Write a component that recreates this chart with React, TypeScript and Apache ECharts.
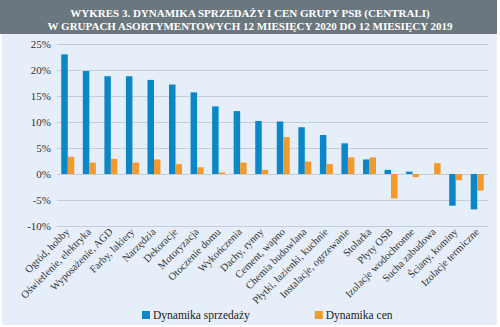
import React, { useEffect, useRef } from "react";
import * as echarts from "echarts";

const categories = [
  "Ogród, hobby",
  "Oświetlenie, elektryka",
  "Wyposażenie, AGD",
  "Farby, lakiery",
  "Narzędzia",
  "Dekoracje",
  "Motoryzacja",
  "Otoczenie domu",
  "Wykończenia",
  "Dachy, rynny",
  "Cement, wapno",
  "Chemia budowlana",
  "Płytki, łazienki, kuchnie",
  "Instalacje, ogrzewanie",
  "Stolarka",
  "Płyty OSB",
  "Izolacje wodochronne",
  "Sucha zabudowa",
  "Ściany, kominy",
  "Izolacje termiczne",
];

const salesDynamics = [23.0, 19.8, 18.8, 18.8, 18.1, 17.2, 15.7, 13.0, 12.1, 10.2, 10.1, 9.0, 7.5, 5.9, 2.8, 0.8, 0.45, 0.0, -6.1, -6.8];
const priceDynamics = [3.3, 2.2, 2.9, 2.2, 2.8, 1.9, 1.3, 0.3, 2.2, 0.8, 7.1, 2.4, 1.9, 3.2, 3.2, -4.7, -0.6, 2.1, -1.2, -3.2];

const titleLines = [
  "WYKRES 3. DYNAMIKA SPRZEDAŻY I CEN GRUPY PSB (CENTRALI)",
  "W GRUPACH ASORTYMENTOWYCH 12 MIESIĘCY 2020 DO 12 MIESIĘCY 2019",
];

const seriesNames = ["Dynamika sprzedaży", "Dynamika cen"];
const serif = "Liberation Serif";

export default function App() {
  const ref = useRef<HTMLDivElement>(null);
  useEffect(() => {
    document.body.style.margin = "0";
    const chart = echarts.init(ref.current!, null, { renderer: "svg" });
    chart.setOption({
      animation: false,
      backgroundColor: "#ffffff",
      textStyle: { fontFamily: serif },
      graphic: [
        { type: "rect", shape: { x: 2, y: 34, width: 495, height: 291 }, style: { fill: "#e5eef9" }, z: -10 },
        { type: "rect", shape: { x: 0, y: 0, width: 497, height: 34 }, style: { fill: "#6b777e" }, z: -10 },
        {
          type: "text",
          x: 250,
          y: 6,
          style: {
            text: titleLines.join("\n"),
            fill: "#ffffff",
            font: `bold 11px "${serif}"`,
            align: "center",
            lineHeight: 13,
          },
        },
      ],
      legend: {
        left: 142,
        top: 309,
        padding: 0,
        itemWidth: 8,
        itemHeight: 8,
        itemGap: 65,
        icon: "rect",
        textStyle: { fontFamily: serif, fontSize: 11.5, color: "#222", padding: [0, 0, 0, -2] },
        data: seriesNames,
      },
      grid: { left: 57, right: 12, top: 44, bottom: 101 },
      xAxis: {
        type: "category",
        data: categories,
        axisLine: { show: false },
        axisTick: { show: false },
        axisLabel: {
          rotate: 45,
          interval: 0,
          fontFamily: serif,
          fontSize: 10.5,
          color: "#333",
          margin: 4,
        },
      },
      yAxis: {
        type: "value",
        min: -10,
        max: 25,
        interval: 5,
        axisLabel: {
          formatter: "{value}%",
          fontFamily: serif,
          fontSize: 11,
          color: "#333",
          margin: 6,
        },
        splitLine: { lineStyle: { color: "#c5cdd9", width: 1 } },
        axisLine: { show: false },
        axisTick: { show: false },
      },
      series: [
        {
          name: seriesNames[0],
          type: "bar",
          data: salesDynamics,
          barWidth: 6.5,
          barGap: "0%",
          itemStyle: { color: "#0b87c9" },
        },
        {
          name: seriesNames[1],
          type: "bar",
          data: priceDynamics,
          barWidth: 6.5,
          itemStyle: { color: "#f39a2e" },
        },
      ],
    });
    return () => chart.dispose();
  }, []);
  return <div ref={ref} style={{ width: 500, height: 327 }} />;
}
